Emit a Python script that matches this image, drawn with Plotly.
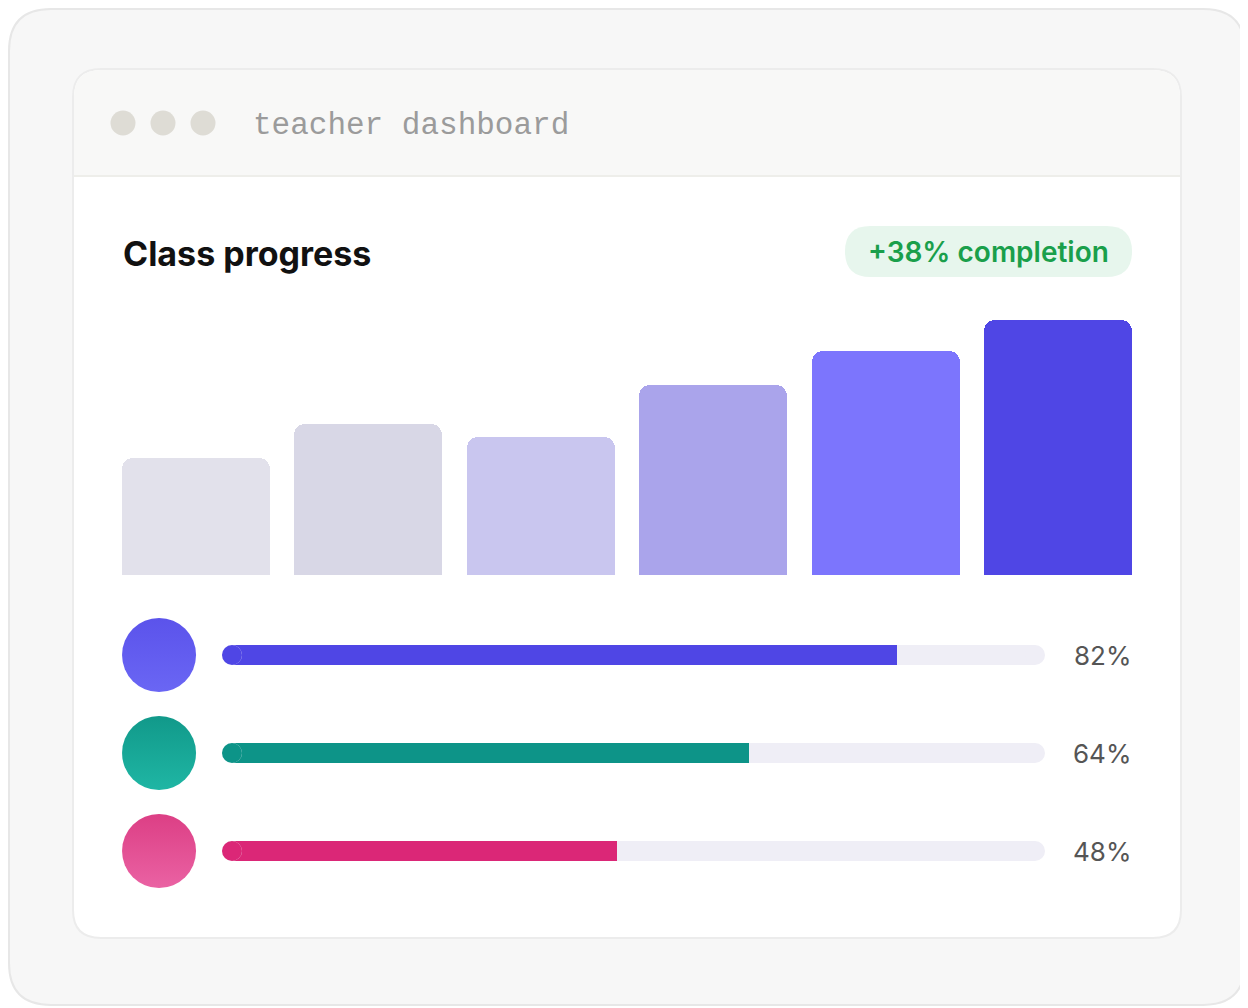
import plotly.graph_objects as go

# ---------------- data ----------------
week_index = [0, 1, 2, 3, 4, 5]
week_values = [45, 58, 53, 73, 86, 98]
week_colors = ["#e2e1eb", "#d8d7e6", "#c9c6ef", "#aaa4eb", "#7c75fd", "#4f46e5"]

row_index = [0, 1, 2]
row_values = [82, 64, 48]
row_labels = ["82%", "64%", "48%"]
row_fill_colors = ["#4f46e5", "#0d9488", "#db2777"]
row_dot_colors = ["#5b53eb", "#11998a", "#dc3f85"]
row_dot_light = ["#6a66f4", "#1fb6a4", "#ea62a3"]

title_text = "Class progress"
badge_text = "+38% completion"
window_title = "teacher dashboard"

# ---------------- geometry helpers ----------------
# the page body has an 8px margin, so the figure is drawn 8px smaller and
# all design positions (measured in window pixels) are shifted by 8px
OFF = 8
W, H = 1240, 1000


def px(x):
    return (x - OFF) / W


def py(y):
    return 1 - (y - OFF) / H


def rounded_rect(x0, y0, x1, y1, r, top_only=False):
    X0, X1 = px(x0), px(x1)
    Y0, Y1 = py(y0), py(y1)
    rx, ry = r / W, r / H
    if top_only:
        return (f"M{X0},{Y1} L{X0},{Y0 - ry} Q{X0},{Y0} {X0 + rx},{Y0} "
                f"L{X1 - rx},{Y0} Q{X1},{Y0} {X1},{Y0 - ry} L{X1},{Y1} Z")
    return (f"M{X0 + rx},{Y0} L{X1 - rx},{Y0} Q{X1},{Y0} {X1},{Y0 - ry} "
            f"L{X1},{Y1 + ry} Q{X1},{Y1} {X1 - rx},{Y1} L{X0 + rx},{Y1} "
            f"Q{X0},{Y1} {X0},{Y1 + ry} L{X0},{Y0 - ry} Q{X0},{Y0} {X0 + rx},{Y0} Z")


fig = go.Figure()

# ---------------- weekly bars ----------------
fig.add_trace(go.Bar(
    x=week_index, y=week_values, width=0.858,
    marker=dict(color=week_colors, cornerradius=11, line=dict(width=0)),
    xaxis="x", yaxis="y", hoverinfo="skip", showlegend=False,
))

# ---------------- progress rows ----------------
TRACK = "#efeef6"
BAR_W = 0.204           # bar thickness in row units (20px)
CAP = 1.215             # half the bar thickness in x2 units (10px)
CAP_PX = 20

# track: square body + round caps at both ends
fig.add_trace(go.Bar(
    y=row_index, x=[100 - 2 * CAP] * 3, base=[CAP] * 3, orientation="h", width=BAR_W,
    marker=dict(color=TRACK, line=dict(width=0)),
    xaxis="x2", yaxis="y2", hoverinfo="skip", showlegend=False,
))
fig.add_trace(go.Scatter(
    x=[CAP] * 3 + [100 - CAP] * 3, y=row_index + row_index, mode="markers",
    marker=dict(size=CAP_PX, color=TRACK, line=dict(width=0)),
    xaxis="x2", yaxis="y2", hoverinfo="skip", showlegend=False, cliponaxis=False,
))
# fill: rounded start, square end at the value
fig.add_trace(go.Bar(
    y=row_index, x=[v - CAP for v in row_values], base=[CAP] * 3, orientation="h", width=BAR_W,
    marker=dict(color=row_fill_colors, line=dict(width=0)),
    xaxis="x2", yaxis="y2", hoverinfo="skip", showlegend=False,
))
fig.add_trace(go.Scatter(
    x=[CAP] * 3, y=row_index, mode="markers",
    marker=dict(size=CAP_PX, color=row_fill_colors, line=dict(width=0)),
    xaxis="x2", yaxis="y2", hoverinfo="skip", showlegend=False, cliponaxis=False,
))
# avatar dots
fig.add_trace(go.Scatter(
    x=[-7.65] * 3, y=row_index, mode="markers",
    marker=dict(size=74, color=row_dot_colors, line=dict(width=0),
                gradient=dict(type="vertical", color=row_dot_light)),
    xaxis="x2", yaxis="y2", hoverinfo="skip", showlegend=False, cliponaxis=False,
))

# ---------------- decorative shapes ----------------
shapes = [
    dict(type="path", xref="paper", yref="paper", layer="below",
         path=rounded_rect(9, 9, 1245, 1005, 42),
         fillcolor="#f7f7f7", line=dict(color="#e7e7e7", width=2)),
    dict(type="path", xref="paper", yref="paper", layer="below",
         path=rounded_rect(73, 69, 1181, 938, 28),
         fillcolor="#ffffff", line=dict(color="#ececec", width=2)),
    dict(type="path", xref="paper", yref="paper", layer="below",
         path=rounded_rect(74, 70, 1180, 176, 27, top_only=True),
         fillcolor="#f8f8f7", line=dict(width=0)),
    dict(type="line", xref="paper", yref="paper", layer="below",
         x0=px(74), x1=px(1180), y0=py(176), y1=py(176),
         line=dict(color="#eeeeea", width=2)),
    dict(type="path", xref="paper", yref="paper", layer="below",
         path=rounded_rect(845, 226, 1132, 277, 25.5),
         fillcolor="#e7f6ed", line=dict(width=0)),
]
for cx in (123, 163, 203):
    shapes.append(dict(type="circle", xref="paper", yref="paper", layer="below",
                       x0=px(cx - 12.5), x1=px(cx + 12.5), y0=py(123 - 12.5), y1=py(123 + 12.5),
                       fillcolor="#dedcd5", line=dict(width=0)))

annotations = [
    dict(x=px(251), y=py(125), xref="paper", yref="paper", text=window_title,
         showarrow=False, xanchor="left", yanchor="middle",
         font=dict(family="Liberation Mono", size=31, color="#9b9b9b")),
    dict(x=px(121), y=py(253), xref="paper", yref="paper", text=title_text,
         showarrow=False, xanchor="left", yanchor="middle",
         font=dict(family="Inter", size=34, color="#111111", weight=700)),
    dict(x=px(988), y=py(252), xref="paper", yref="paper", text=badge_text,
         showarrow=False, xanchor="center", yanchor="middle",
         font=dict(family="Inter", size=28, color="#1a9f4b", weight=600)),
]
row_label_y = [655, 753, 851]
for yy, lab in zip(row_label_y, row_labels):
    annotations.append(dict(
        x=px(1133), y=py(yy), xref="paper", yref="paper", text=lab, showarrow=False,
        xanchor="right", yanchor="middle",
        font=dict(family="Inter", size=26, color="#555555"),
    ))

fig.update_layout(
    width=W, height=H,
    margin=dict(l=0, r=0, t=0, b=0),
    paper_bgcolor="#ffffff", plot_bgcolor="rgba(0,0,0,0)",
    barmode="overlay", bargap=0,
    shapes=shapes,
    annotations=annotations,
    xaxis=dict(domain=[px(122), px(1132)], range=[-0.429, 5.429], visible=False, fixedrange=True),
    yaxis=dict(domain=[py(575), py(315)], range=[0, 100], visible=False, fixedrange=True),
    xaxis2=dict(domain=[px(122), px(1045)], range=[-12.15, 100], visible=False, fixedrange=True, anchor="y2"),
    yaxis2=dict(domain=[py(900), py(606)], range=[2.5, -0.5], visible=False, fixedrange=True, anchor="x2"),
    showlegend=False,
)

fig.write_html("out.html", config=dict(displayModeBar=False))
